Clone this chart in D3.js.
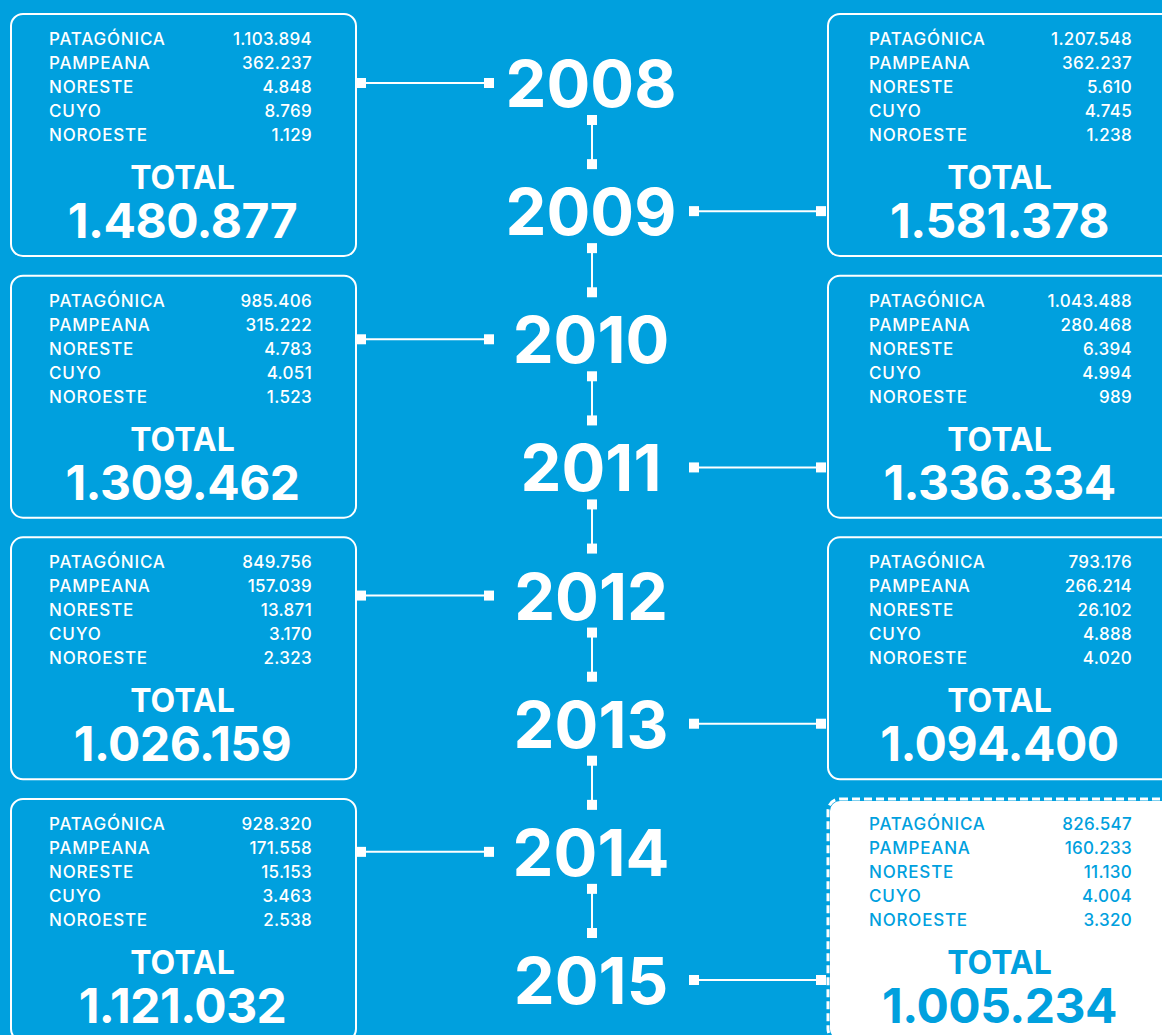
<!DOCTYPE html>
<html>
<head>
<meta charset="utf-8">
<script src="https://cdn.jsdelivr.net/npm/d3@7.9.0/dist/d3.min.js"></script>
<style>
  html, body { margin: 0; padding: 0; background: #00a0de; overflow: hidden; }
  svg { display: block; font-family: Inter, "Open Sans", sans-serif; }
</style>
</head>
<body>
<script>
// ** Data **
const years = [2008, 2009, 2010, 2011, 2012, 2013, 2014, 2015];
const regions = ["PATAGÓNICA", "PAMPEANA", "NORESTE", "CUYO", "NOROESTE"];
const patagonica = [1103894, 1207548, 985406, 1043488, 849756, 793176, 928320, 826547];
const pampeana = [362237, 362237, 315222, 280468, 157039, 266214, 171558, 160233];
const noreste = [4848, 5610, 4783, 6394, 13871, 26102, 15153, 11130];
const cuyo = [8769, 4745, 4051, 4994, 3170, 4888, 3463, 4004];
const noroeste = [1129, 1238, 1523, 989, 2323, 4020, 2538, 3320];
const totals = [1480877, 1581378, 1309462, 1336334, 1026159, 1094400, 1121032, 1005234];

const series = [patagonica, pampeana, noreste, cuyo, noroeste];
const rows = years.map((y, i) => ({
    year: y,
    i: i,
    side: i % 2 === 0 ? "left" : "right",
    values: series.map(s => s[i]),
    total: totals[i],
    highlight: i === years.length - 1
}));

const fmt = d3.formatLocale({ decimal: ",", thousands: ".", grouping: [3], currency: ["$", ""] }).format(",d");

// ** Layout **
const width = 1162, height = 1035;
const blue = "#00a0de";
const boxW = 345, boxH = 242;
const boxX = { left: 11, right: 828 };
const labelX = { left: 38, right: 41 };
const valueX = { left: 301, right: 304 };
const yearX = 591;

const yYear = d3.scalePoint().domain(years).range([83, 980]);
const yBox = d3.scaleLinear().domain([0, 3]).range([14, 799]);

const svg = d3.select("body").append("svg")
    .attr("width", width)
    .attr("height", height);

svg.append("rect").attr("width", width).attr("height", height).attr("fill", blue);

// ** Vertical connectors between years **
const vert = svg.append("g");
years.slice(0, -1).forEach((y, i) => {
    const y1 = yYear(y) + 37, y2 = yYear(years[i + 1]) - 47;
    vert.append("line")
        .attr("x1", yearX + 1).attr("x2", yearX + 1)
        .attr("y1", y1).attr("y2", y2)
        .attr("stroke", "#fff").attr("stroke-width", 2);
    [y1, y2].forEach(yy => vert.append("rect")
        .attr("x", yearX + 1 - 5).attr("y", yy - 5)
        .attr("width", 10).attr("height", 10)
        .attr("fill", "#fff"));
});

// ** Horizontal connectors year -> box **
const horiz = svg.append("g");
rows.forEach(d => {
    const yy = yYear(d.year);
    const xs = d.side === "left" ? [361, 489] : [694, 821];
    horiz.append("line")
        .attr("x1", xs[0]).attr("x2", xs[1])
        .attr("y1", yy).attr("y2", yy)
        .attr("stroke", "#fff").attr("stroke-width", 2);
    xs.forEach(xx => horiz.append("rect")
        .attr("x", xx - 5).attr("y", yy - 5)
        .attr("width", 10).attr("height", 10)
        .attr("fill", "#fff"));
});

// ** Year labels **
svg.append("g").selectAll("text")
    .data(rows)
    .enter()
    .append("text")
    .attr("x", yearX)
    .attr("y", d => yYear(d.year) + 24)
    .attr("text-anchor", "middle")
    .attr("fill", "#fff")
    .style("font-size", "65px")
    .style("font-weight", 700)
    .text(d => d.year);

// ** Boxes **
const boxes = svg.append("g").selectAll("g")
    .data(rows)
    .enter()
    .append("g")
    .attr("transform", d => `translate(${boxX[d.side]},${yBox(Math.floor(d.i / 2))})`);

boxes.filter(d => !d.highlight).append("rect")
    .attr("width", boxW).attr("height", boxH)
    .attr("rx", 12)
    .attr("fill", "none")
    .attr("stroke", "#fff")
    .attr("stroke-width", 2);

boxes.filter(d => d.highlight).append("rect")
    .attr("x", 2).attr("y", 2)
    .attr("width", boxW - 4).attr("height", boxH - 4)
    .attr("rx", 10)
    .attr("fill", "#fff");

boxes.filter(d => d.highlight).append("rect")
    .attr("width", boxW).attr("height", boxH)
    .attr("rx", 12)
    .attr("fill", "none")
    .attr("stroke", "#fff")
    .attr("stroke-width", 3)
    .attr("stroke-dasharray", "8 4");

const textColor = d => d.highlight ? blue : "#fff";

boxes.each(function (d) {
    const g = d3.select(this);
    regions.forEach((r, k) => {
        g.append("text")
            .attr("x", labelX[d.side]).attr("y", 31 + k * 24)
            .attr("fill", textColor(d))
            .style("font-size", "17px")
            .style("font-weight", 500)
            .style("letter-spacing", "0.8px")
            .text(r);
        g.append("text")
            .attr("x", valueX[d.side]).attr("y", 31 + k * 24)
            .attr("text-anchor", "end")
            .attr("fill", textColor(d))
            .style("font-size", "17px")
            .style("font-weight", 500)
            .style("letter-spacing", "0.3px")
            .text(fmt(d.values[k]));
    });
});

boxes.append("text")
    .attr("x", boxW / 2 - 1).attr("y", 175)
    .attr("text-anchor", "middle")
    .attr("fill", textColor)
    .style("font-size", "32px")
    .style("font-weight", 700)
    .text("TOTAL");

boxes.append("text")
    .attr("x", boxW / 2 - 1).attr("y", 224)
    .attr("text-anchor", "middle")
    .attr("fill", textColor)
    .style("font-size", "48px")
    .style("font-weight", 700)
    .style("letter-spacing", "-0.5px")
    .text(d => fmt(d.total));
</script>
</body>
</html>
